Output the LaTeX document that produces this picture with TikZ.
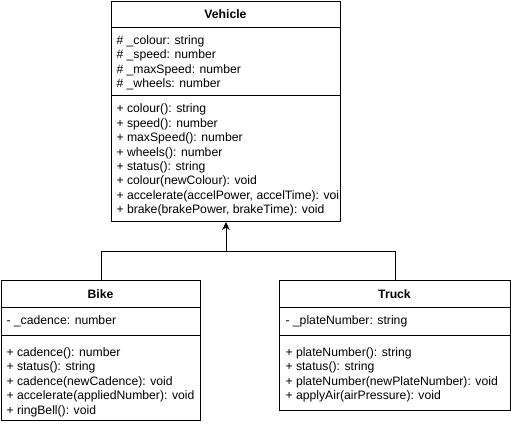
\documentclass[tikz,border=0pt]{standalone}
\usepackage{fontspec}
\setmainfont{Liberation Sans}
\usetikzlibrary{arrows.meta}
\begin{document}
\begin{tikzpicture}[x=1pt,y=-1pt,line width=1pt,
  classbox/.style={draw,rectangle,inner sep=0pt,anchor=north west},
  classtitle/.style={font=\fontsize{12.2}{14.4}\selectfont\bfseries,anchor=base,inner sep=0pt},
  members/.style={font=\fontsize{12.2}{14.4}\selectfont,align=left,anchor=north west,inner sep=0pt},
  inherit/.style={-{Stealth[length=8pt,width=7.5pt]}}]
\useasboundingbox (0,0) rectangle (511,424);
% Vehicle
\node[classbox,minimum width=229pt,minimum height=220pt] (vehicle) at (111,1) {};
\draw (vehicle.north west) ++(0,26) -- ++(229,0);
\draw (vehicle.north west) ++(0,94) -- ++(229,0);
\node[classtitle] (vehicletitle) at (225.5,18.5) {Vehicle};
\node[members] (vehicleattrs) at (116,33.92) {\strut\# \_colour: string\\\# \_speed: number\\\# \_maxSpeed: number\\\# \_wheels: number};
\node[members] (vehiclemethods) at (116,102.4) {\strut+ colour(): string\\+ speed(): number\\+ maxSpeed(): number\\+ wheels(): number\\+ status(): string\\+ colour(newColour): void\\+ accelerate(accelPower, accelTime): voi\\+ brake(brakePower, brakeTime): void};
% Bike
\node[classbox,minimum width=199pt,minimum height=140pt] (bike) at (1,280) {};
\draw (bike.north west) ++(0,27) -- ++(199,0);
\draw (bike.north west) ++(0,55) -- ++(199,0);
\node[classtitle] (biketitle) at (100.5,298.5) {Bike};
\node[members] (bikeattrs) at (6,313.92) {\strut- \_cadence: number};
\node[members] (bikemethods) at (6,345.92) {\strut+ cadence(): number\\+ status(): string\\+ cadence(newCadence): void\\+ accelerate(appliedNumber): void\\+ ringBell(): void};
% Truck
\node[classbox,minimum width=231pt,minimum height=130pt] (truck) at (279,280) {};
\draw (truck.north west) ++(0,27) -- ++(231,0);
\draw (truck.north west) ++(0,55) -- ++(231,0);
\node[classtitle] (trucktitle) at (394.5,298.5) {Truck};
\node[members] (truckattrs) at (285,313.92) {\strut- \_plateNumber: string};
\node[members] (truckmethods) at (285,345.92) {\strut+ plateNumber(): string\\+ status(): string\\+ plateNumber(newPlateNumber): void\\+ applyAir(airPressure): void};
% inheritance
\path (vehicle.south) ++(0,29) coordinate (junction);
\draw (bike.north) |- (junction);
\draw (truck.north) |- (junction);
\draw[inherit] (junction) -- (vehicle.south);
\end{tikzpicture}
\end{document}
